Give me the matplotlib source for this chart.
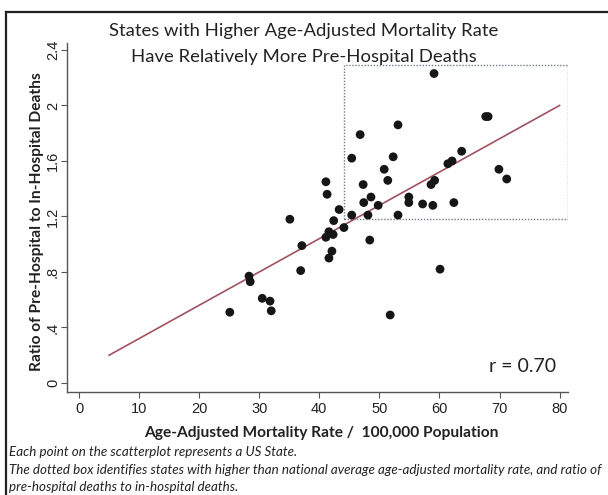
import matplotlib.pyplot as plt
from matplotlib.patches import Rectangle
from matplotlib.lines import Line2D

# Age-adjusted mortality rate (x) vs ratio of pre-hospital to in-hospital deaths (y)
rate = [59.1, 53.1, 46.8, 67.7, 68.1, 63.7, 45.4, 52.3, 61.4, 62.1,
        50.8, 69.9, 71.2, 51.4, 47.3, 58.6, 59.2, 41.1, 41.3, 48.6,
        54.9, 47.4, 54.9, 57.2, 58.9, 62.4, 49.8, 43.3, 45.4, 48.1,
        53.1, 35.1, 42.4, 44.1, 41.6, 42.3, 41.1, 48.4, 37.1, 42.1,
        41.6, 60.1, 36.9, 28.3, 28.5, 30.5, 31.8, 32.0, 25.1, 51.8]
ratio = [2.23, 1.86, 1.79, 1.92, 1.92, 1.67, 1.62, 1.63, 1.58, 1.60,
         1.54, 1.54, 1.47, 1.46, 1.43, 1.43, 1.46, 1.45, 1.36, 1.34,
         1.34, 1.30, 1.30, 1.29, 1.28, 1.30, 1.28, 1.25, 1.21, 1.21,
         1.21, 1.18, 1.17, 1.12, 1.09, 1.07, 1.05, 1.03, 0.99, 0.95,
         0.90, 0.82, 0.81, 0.77, 0.73, 0.61, 0.59, 0.52, 0.51, 0.49]

# fitted line ends and the dotted "high / high" box
fit_x = [5, 80]
fit_y = [0.20, 2.00]
box_x = [44.1, 81.4]
box_y = [1.18, 2.29]

xticks = [0, 10, 20, 30, 40, 50, 60, 70, 80]
yticks = [0, 0.4, 0.8, 1.2, 1.6, 2.0, 2.4]
ytick_labels = ['0', '.4', '.8', '1.2', '1.6', '2', '2.4']

title_lines = ['States with Higher Age-Adjusted Mortality Rate',
               'Have Relatively More Pre-Hospital Deaths']
caption = ['Each point on the scatterplot represents a US State.',
           'The dotted box identifies states with higher than national average age-adjusted mortality rate, and ratio of',
           'pre-hospital deaths to in-hospital deaths.']

fig = plt.figure(figsize=(6.08, 4.95), dpi=100)
ax = fig.add_axes([67/608, 1 - 392/495, 501/608, 349/495])

ax.plot(fit_x, fit_y, color='#a0535e', lw=1.2, zorder=2)
ax.scatter(rate, ratio, s=40, color='#161616', edgecolor='none', zorder=3)
ax.add_patch(Rectangle((box_x[0], box_y[0]), box_x[1] - box_x[0], box_y[1] - box_y[0],
                       fill=False, ls=(0, (1, 1.2)), lw=1.0, ec='#6f7c90', zorder=1))

ax.set_xlim(-2.0, 81.4)
ax.set_ylim(-0.065, 2.45)
for s in ['top', 'right']:
    ax.spines[s].set_visible(False)
for s in ['left', 'bottom']:
    ax.spines[s].set_color('#555555')
    ax.spines[s].set_linewidth(1.0)

ax.set_xticks(xticks)
ax.set_xticklabels([str(v) for v in xticks], family='Liberation Sans', fontsize=10.5, color='#222222')
ax.set_yticks(yticks)
ax.set_yticklabels(ytick_labels, family='Liberation Sans', fontsize=10.5, color='#222222',
                   rotation=90, va='center')
ax.tick_params(axis='both', length=4, width=0.8, color='#555555')
ax.tick_params(axis='x', pad=3)
ax.tick_params(axis='y', pad=1)

ax.text(0.91, 0.072, 'r = 0.70', transform=ax.transAxes, ha='center', va='center',
        family='Lato', fontsize=14, color='#222222')

fig.text(0.5, 1 - 31/495, title_lines[0], ha='center', va='center', family='Lato', fontsize=13.3, color='#222222')
fig.text(0.5, 1 - 57/495, title_lines[1], ha='center', va='center', family='Lato', fontsize=13.3, color='#222222')

fig.text(37/608, 1 - 222/495, 'Ratio of Pre-Hospital to In-Hospital Deaths', rotation=90,
         ha='center', va='center', family='Lato', fontweight='bold', fontsize=11.2, color='#222222')
fig.text(321/608, 1 - 433/495, 'Age-Adjusted Mortality Rate /  100,000 Population',
         ha='center', va='center', family='Lato', fontweight='bold', fontsize=11.2, color='#222222')

for i, yy in enumerate([452, 470, 487]):
    fig.text(9/608, 1 - yy/495, caption[i], ha='left', va='center', family='Lato',
             style='italic', fontsize=9.6, color='#222222')

# outer frame (left and top edges visible)
fig.add_artist(Line2D([6/608, 6/608], [0, 1 - 12/495], color='#222222', lw=1.6))
fig.add_artist(Line2D([6/608, 1], [1 - 12/495, 1 - 12/495], color='#222222', lw=1.6))

fig.savefig('out.png', dpi=100)
